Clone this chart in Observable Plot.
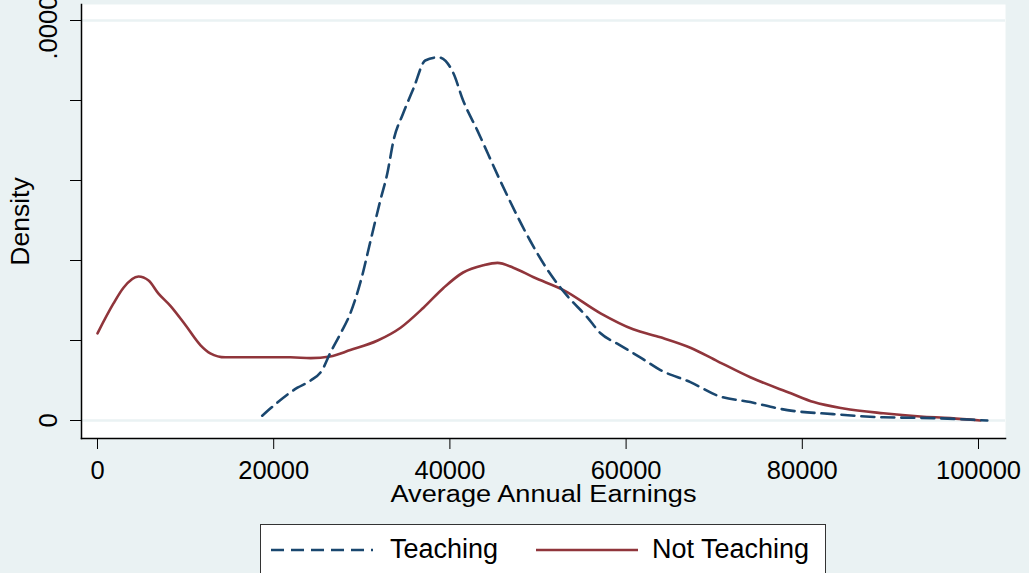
<!DOCTYPE html>
<html>
<head>
<meta charset="utf-8">
<script src="https://cdn.jsdelivr.net/npm/d3@7"></script>
<script src="https://cdn.jsdelivr.net/npm/@observablehq/plot@0.6"></script>
<style>
  html, body { margin: 0; padding: 0; background: #eaf2f3; overflow: hidden; }
  body { width: 1029px; height: 573px; font-family: "Liberation Sans", Arial, sans-serif; }
  #chart svg { display: block; overflow: visible; }
  #legend {
    position: absolute; left: 260px; top: 524px; width: 564px; height: 70px;
    background: white; border: 1px solid #333;
  }
  #legend .item { position: absolute; top: 9px; font-size: 27px; color: #000; }
</style>
</head>
<body>
<div id="chart"></div>
<div id="legend">
  <svg width="564" height="60" style="position:absolute;left:0;top:0">
    <line x1="10" x2="112" y1="25" y2="25" stroke="#1a476f" stroke-width="2.6" stroke-dasharray="13,7"/>
    <line x1="275" x2="377" y1="25" y2="25" stroke="#90353b" stroke-width="2.6"/>
  </svg>
  <div class="item" style="left:129px">Teaching</div>
  <div class="item" style="left:391px">Not Teaching</div>
</div>
<script>
// Average Annual Earnings (dollars) and kernel density (in units of 1e-5)
const teachingEarnings = [18700,22700,24200,25500,26400,27600,28700,29900,31000,32100,32900,33600,34700,35900,37200,38700,40400,41500,43100,45700,49100,51100,53300,55600,57100,59000,61600,63900,67300,70400,74100,78300,83500,89200,94900,101000];
const teachingDensity = [0.06,0.41,0.50,0.63,0.84,1.09,1.34,1.75,2.25,2.75,3.09,3.50,3.84,4.16,4.50,4.54,4.34,4.00,3.63,3.00,2.25,1.88,1.56,1.29,1.09,0.96,0.79,0.63,0.48,0.31,0.23,0.13,0.08,0.04,0.03,0.00];

const notTeachingEarnings = [0,1800,2950,4650,5800,6900,8300,10000,11700,12800,14500,16200,18500,21900,24200,26400,28700,31800,34400,37000,39300,41500,43800,45400,47200,49500,52900,57100,60800,63900,67300,70400,74100,78700,81300,84700,89200,93400,96800,100200];
const notTeachingDensity = [1.09,1.46,1.66,1.80,1.75,1.59,1.43,1.19,0.94,0.84,0.79,0.79,0.79,0.79,0.78,0.80,0.88,1.00,1.16,1.41,1.66,1.85,1.94,1.97,1.91,1.79,1.63,1.34,1.14,1.04,0.91,0.74,0.54,0.34,0.23,0.15,0.09,0.05,0.03,0.00];

const xTicks = [0, 20000, 40000, 60000, 80000, 100000];
const yTicks = [0, 1, 2, 3, 4, 5];          // units of 1e-5
const yTickLabels = ["0", "", "", "", "", ".00005"];
const yGrid = [0, 5];
const xTitle = "Average Annual Earnings";
const yTitle = "Density";

const teaching = teachingEarnings.map((x, i) => ({x, y: teachingDensity[i]}));
const notTeaching = notTeachingEarnings.map((x, i) => ({x, y: notTeachingDensity[i]}));
const yLabelData = yTicks.map((v, i) => ({v, label: yTickLabels[i]})).filter(d => d.label);

const navy = "#1a476f", maroon = "#90353b", bg = "#eaf2f3";

const chart = Plot.plot({
  width: 1029,
  height: 515,
  marginLeft: 81,
  marginRight: 24,
  marginTop: 4,
  marginBottom: 77,
  style: {background: bg, fontFamily: "'Liberation Sans', Arial, sans-serif", color: "#000", overflow: "visible"},
  x: {domain: [-1816, 103065]},
  y: {domain: [-0.225, 5.2]},
  marks: [
    Plot.frame({fill: "white", stroke: null}),
    Plot.ruleY(yGrid, {stroke: bg, strokeWidth: 2.5}),
    Plot.line(notTeaching, {x: "x", y: "y", stroke: maroon, strokeWidth: 2.6, curve: "monotone-x"}),
    Plot.line(teaching, {x: "x", y: "y", stroke: navy, strokeWidth: 2.6, strokeDasharray: "13,7", curve: "monotone-x"}),
    Plot.axisX(xTicks, {tickSize: 11, tickPadding: 11, fontSize: 25.5, label: null, tickFormat: d => String(d), stroke: "#000"}),
    Plot.axisY(yTicks, {tickSize: 11, tickFormat: () => "", label: null, stroke: "#000"}),
    Plot.frame({anchor: "left", stroke: "#000", strokeWidth: 1.5}),
    Plot.frame({anchor: "bottom", stroke: "#000", strokeWidth: 1.5}),
    Plot.text(yLabelData, {y: "v", text: "label", frameAnchor: "left", textAnchor: "middle", dx: -33, rotate: -90, fontSize: 25.5, fill: "#000"}),
    Plot.text([yTitle], {frameAnchor: "left", textAnchor: "middle", dx: -61, rotate: -90, fontSize: 26.5, fill: "#000"}),
    Plot.text([xTitle], {frameAnchor: "bottom", textAnchor: "middle", dy: 63, fontSize: 23.5, fill: "#000", className: "xtitle"})
  ]
});
chart.querySelectorAll("text").forEach(t => {
  if (t.textContent === xTitle) {
    t.setAttribute("textLength", "306");
    t.setAttribute("lengthAdjust", "spacingAndGlyphs");
  }
});
document.getElementById("chart").appendChild(chart);
</script>
</body>
</html>
